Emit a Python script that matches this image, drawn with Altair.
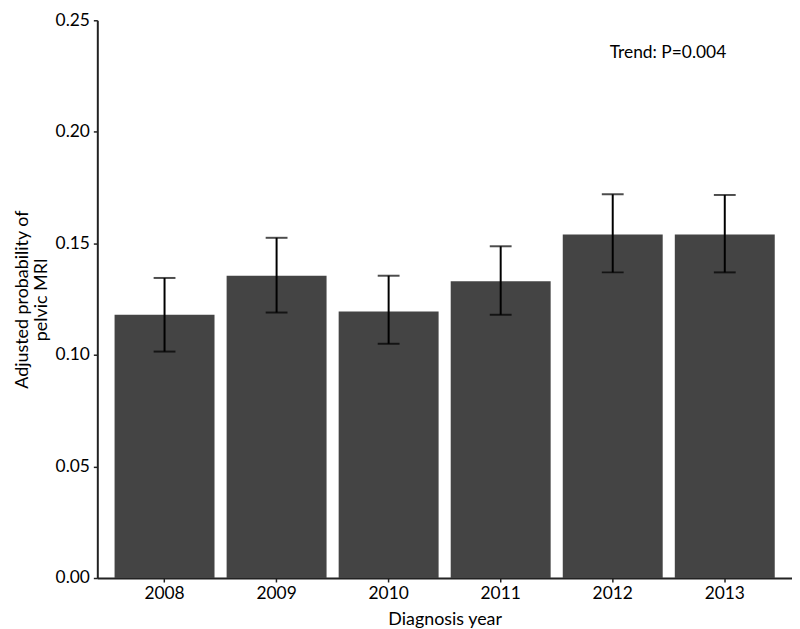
import altair as alt
import pandas as pd

years = ["2008", "2009", "2010", "2011", "2012", "2013"]
prob = [0.118, 0.1355, 0.1195, 0.133, 0.154, 0.154]
lower = [0.1015, 0.119, 0.105, 0.118, 0.137, 0.137]
upper = [0.1345, 0.1525, 0.1355, 0.1487, 0.172, 0.1717]

note_text = ["Trend: P=0.004"]
note_y = [0.2355]

df = pd.DataFrame({"year": years, "prob": prob, "lower": lower, "upper": upper})
note = pd.DataFrame({"label": note_text, "y": note_y})

FONT = "Lato"

x_enc = alt.X(
    "year:N",
    title="Diagnosis year",
    scale=alt.Scale(paddingInner=0.108, paddingOuter=0.154),
    axis=alt.Axis(labelAngle=0, tickSize=4, labelPadding=3, titlePadding=8),
)
y_scale = alt.Scale(domain=[0, 0.25], nice=False, zero=True)

bars = alt.Chart(df).mark_bar(color="#444444").encode(
    x=x_enc,
    y=alt.Y(
        "prob:Q",
        scale=y_scale,
        title=["Adjusted probability of", "pelvic MRI"],
        axis=alt.Axis(
            values=[0, 0.05, 0.10, 0.15, 0.20, 0.25],
            format=".2f",
            grid=False,
            tickSize=4,
            labelPadding=4,
            titlePadding=5,
            titleLineHeight=19,
        ),
    ),
)

rules = alt.Chart(df).mark_rule(color="black", strokeWidth=2).encode(
    x="year:N",
    y=alt.Y("lower:Q", scale=y_scale),
    y2="upper:Q",
)

caps_top = alt.Chart(df).mark_tick(color="black", thickness=2, size=22).encode(
    x="year:N",
    y=alt.Y("upper:Q", scale=y_scale),
)
caps_bot = alt.Chart(df).mark_tick(color="black", thickness=2, size=22).encode(
    x="year:N",
    y=alt.Y("lower:Q", scale=y_scale),
)

text = alt.Chart(note).mark_text(
    font=FONT, fontSize=17.5, color="black", align="center", baseline="middle"
).encode(
    x=alt.value(575),
    y=alt.Y("y:Q", scale=y_scale),
    text="label:N",
)

chart = (
    alt.layer(bars, rules, caps_top, caps_bot, text)
    .properties(
        width=700,
        height=562,
        autosize="none",
        padding={"left": 90, "top": 10, "right": 0, "bottom": 49},
    )
    .configure_view(stroke=None)
    .configure_axis(
        labelFont=FONT,
        titleFont=FONT,
        labelFontSize=17.5,
        titleFontSize=18,
        titleFontWeight="normal",
        labelColor="black",
        titleColor="black",
        domainColor="#222222",
        domainWidth=2,
        tickColor="#222222",
        tickWidth=1.5,
    )
)

chart.save("out.html", embed_options={"renderer": "svg", "actions": False})
